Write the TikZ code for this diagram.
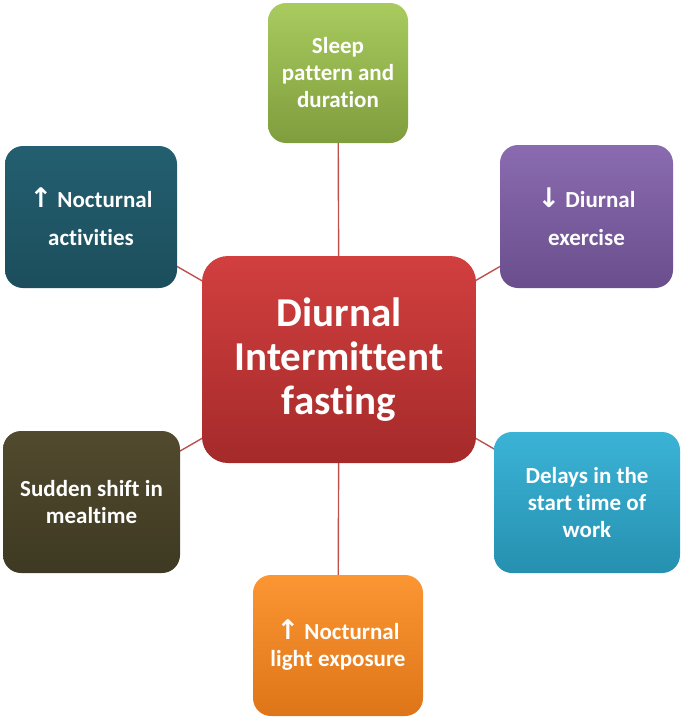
\documentclass[tikz,border=0pt]{standalone}
\usepackage{fontspec}
\setmainfont[Ligatures=NoCommon]{Carlito}
\newfontfamily\arrowfont{DejaVu Sans}
\newcommand{\uparr}{{\arrowfont\fontsize{27}{27}\selectfont ↑}}
\newcommand{\dnarr}{{\arrowfont\fontsize{27}{27}\selectfont ↓}}
\definecolor{linkred}{HTML}{C0504D}
\definecolor{gtop}{HTML}{A9CB5E}\definecolor{gbot}{HTML}{7F9D3D}
\definecolor{ttop}{HTML}{235F70}\definecolor{tbot}{HTML}{1C4E5C}
\definecolor{ptop}{HTML}{8A6BB0}\definecolor{pbot}{HTML}{6A4E8C}
\definecolor{rtop}{HTML}{D23F3F}\definecolor{rbot}{HTML}{A52A2A}
\definecolor{otop}{HTML}{514A2E}\definecolor{obot}{HTML}{3E3922}
\definecolor{ctop}{HTML}{3BB3D6}\definecolor{cbot}{HTML}{2690B0}
\definecolor{ortop}{HTML}{FB9633}\definecolor{orbot}{HTML}{DE7518}
\begin{document}
\begin{tikzpicture}[x=1pt,y=-1pt,
  box/.style={rounded corners=18pt, inner sep=0pt, align=center, text=white,
    font=\bfseries\fontsize{23}{27}\selectfont},
  link/.style={draw=linkred, line width=1.4pt}]
\useasboundingbox (0,0) rectangle (685,720);
\coordinate (cc) at (339,359.5);
\coordinate (ga) at (338,73);
\coordinate (ta) at (91,217);
\coordinate (pa) at (586.5,216.5);
\coordinate (oa) at (91.5,502);
\coordinate (ca) at (587,502.5);
\coordinate (ora) at (338,645.5);
\draw[link] (cc) -- (ga);
\draw[link] (cc) -- (ta);
\draw[link] (cc) -- (pa);
\draw[link] (cc) -- (oa);
\draw[link] (cc) -- (ca);
\draw[link] (cc) -- (ora);
\node[box, top color=gtop, bottom color=gbot, minimum width=140pt, minimum height=140pt] (green) at (ga) {Sleep\\pattern and\\duration};
\node[box, top color=ttop, bottom color=tbot, minimum width=172pt, minimum height=142pt,
  font=\bfseries\fontsize{23}{38}\selectfont] (teal) at (ta) {\uparr{} Nocturnal\\activities};
\node[box, top color=ptop, bottom color=pbot, minimum width=173pt, minimum height=143pt,
  font=\bfseries\fontsize{23}{38}\selectfont] (purple) at (pa) {\dnarr{} Diurnal\\exercise};
\node[box, top color=otop, bottom color=obot, minimum width=177pt, minimum height=142pt] (olive) at (oa) {Sudden shift in\\mealtime};
\node[box, top color=ctop, bottom color=cbot, minimum width=186pt, minimum height=141pt] (cyan) at (ca) {Delays in the\\start time of\\work};
\node[box, top color=ortop, bottom color=orbot, minimum width=170pt, minimum height=141pt] (orange) at (ora) {\uparr{} Nocturnal\\light exposure};
\node[box, rounded corners=26pt, top color=rtop, bottom color=rbot, minimum width=274pt, minimum height=207pt,
  font=\bfseries\fontsize{41}{44}\selectfont] (center) at (cc) {Diurnal\\Intermittent\\fasting};
\end{tikzpicture}
\end{document}
